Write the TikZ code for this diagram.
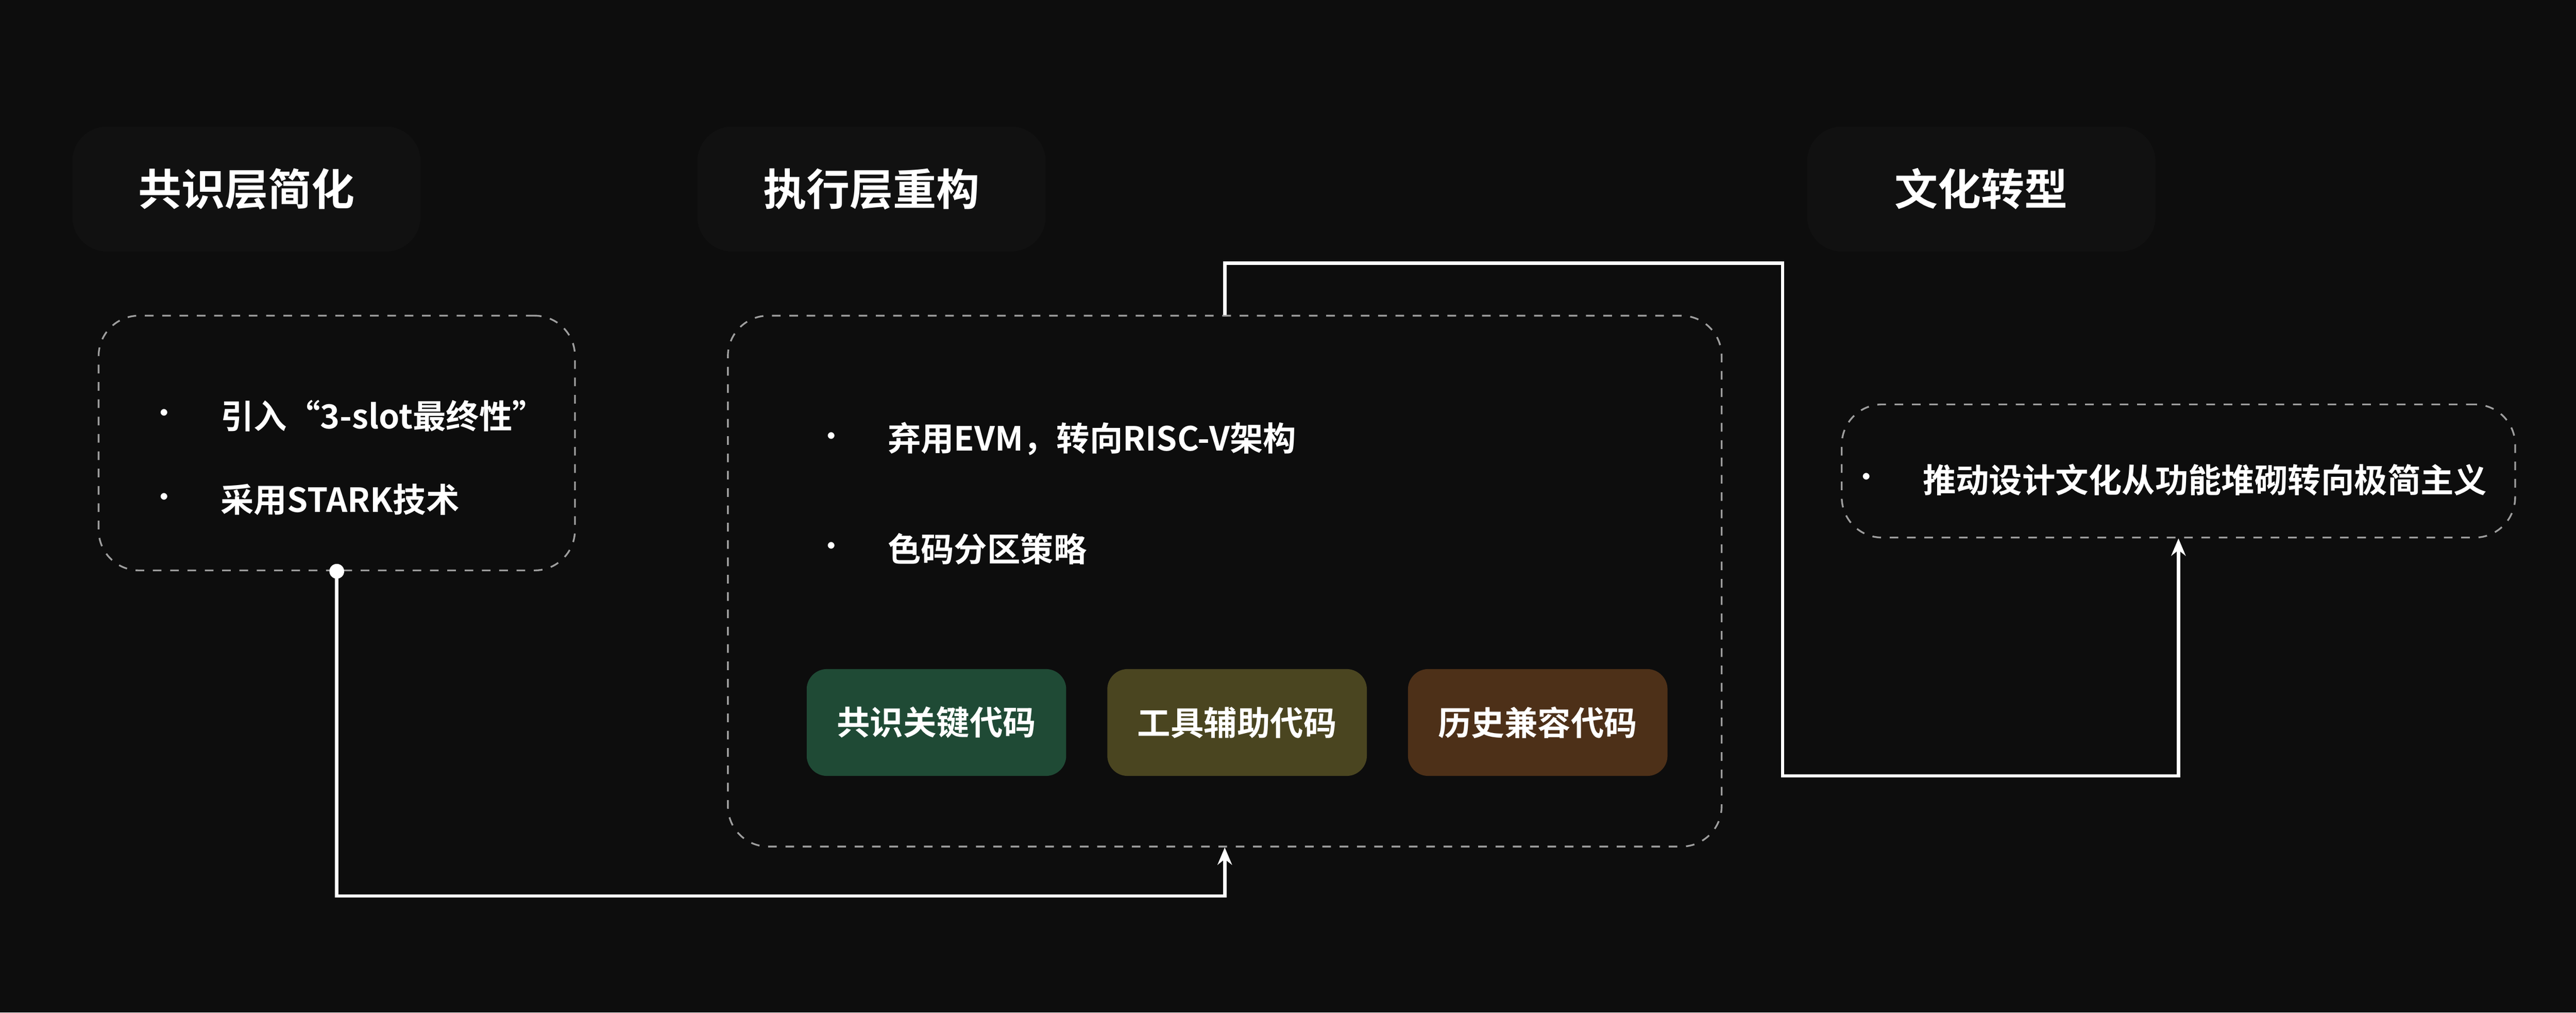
\documentclass[tikz,border=0pt]{standalone}
\usepackage{fontspec}
\setmainfont{Noto Sans CJK SC Bold}
\usetikzlibrary{arrows.meta}
\definecolor{bg}{HTML}{0D0D0D}
\definecolor{hdr}{HTML}{111111}
\definecolor{cg}{HTML}{1F4A35}
\definecolor{co}{HTML}{4A4520}
\definecolor{cb}{HTML}{4D3018}
\tikzset{
 hdrbox/.style={fill=hdr,rounded corners=12pt,minimum width=4.24cm,minimum height=1.52cm,text=white,font=\fontsize{15}{18}\selectfont},
 dbox/.style={draw=white!62!black,dashed,line width=0.6pt,rounded corners=14pt},
 tag/.style={rounded corners=7pt,minimum width=3.16cm,minimum height=1.3cm,text=white,font=\fontsize{11.5}{14}\selectfont},
 txt/.style={text=white,anchor=west,font=\fontsize{11.5}{14}\selectfont,inner sep=0pt},
 bul/.style={text=white,font=\fontsize{9}{10}\selectfont,inner sep=0pt},
 conn/.style={draw=white,line width=1.2pt,-{Stealth[length=6pt,width=5pt]}}
}
\begin{document}
\begin{tikzpicture}[x=0.02cm,y=-0.02cm]
\fill[bg] (0,0) rectangle (1568,616);
\useasboundingbox (0,0) rectangle (1568,616);
\node[hdrbox] (h1) at (150,115) {共识层简化};
\node[hdrbox] (h2) at (530.5,115) {执行层重构};
\node[hdrbox] (h3) at (1206,115) {文化转型};
\node[dbox,minimum width=5.8cm,minimum height=3.1cm] (b1) at (205,269.5) {};
\node[dbox,minimum width=12.1cm,minimum height=6.46cm] (b2) at (745.5,353.5) {};
\node[dbox,minimum width=8.2cm,minimum height=1.62cm] (b3) at (1326,286.5) {};
\node[bul] (p1) at (100,253) {•};
\node[txt] (t1) at (134,253) {引入“3-slot最终性”};
\node[bul] (p2) at (100,304) {•};
\node[txt] (t2) at (134,304) {采用STARK技术};
\node[bul] (p3) at (506,267) {•};
\node[txt] (t3) at (540,267) {弃用EVM，转向RISC-V架构};
\node[bul] (p4) at (506,334) {•};
\node[txt] (t4) at (540,334) {色码分区策略};
\node[bul] (p5) at (1136,292) {•};
\node[txt] (t5) at (1170,292) {推动设计文化从功能堆砌转向极简主义};
\node[tag,fill=cg] (g1) at (570,439.5) {共识关键代码};
\node[tag,fill=co] (g2) at (753,439.5) {工具辅助代码};
\node[tag,fill=cb] (g3) at (936,439.5) {历史兼容代码};
\coordinate (c1) at (205,545);
\coordinate (c2) at (1085,160);
\coordinate (c3) at (1085,472);
\fill[white] (b1.south) circle (4.5);
\draw[conn] (b1.south) |- (b2.south |- c1) -- (b2.south);
\draw[conn] (b2.north) |- (c2) -- (c3) -| (b3.south);
\end{tikzpicture}
\end{document}
